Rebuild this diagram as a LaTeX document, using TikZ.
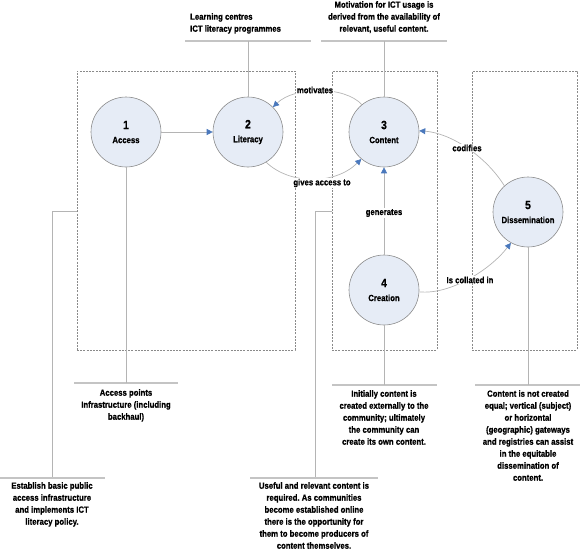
\documentclass[tikz,border=0pt]{standalone}
\usepackage{fontspec}
\newfontfamily\lbl{Liberation Sans Bold}[FakeStretch=0.86, FakeBold=0.6]
\usetikzlibrary{arrows.meta}
\definecolor{circfill}{HTML}{E6ECF6}
\definecolor{circline}{HTML}{8C8C8C}
\definecolor{arrblue}{HTML}{4A78BC}
\definecolor{connc}{HTML}{B4B4B4}
\definecolor{callc}{HTML}{C4C4C4}
\definecolor{boxc}{HTML}{8A8A8A}
\frenchspacing
\begin{document}
\begin{tikzpicture}[x=1pt,y=-1pt,
  circ/.style={circle, minimum size=70pt, inner sep=0pt, fill=circfill, draw=circline, line width=0.6pt, align=center, font=\lbl\fontsize{9}{12}\selectfont},
  dbox/.style={draw=boxc, dash pattern=on 2pt off 1.2pt, line width=0.6pt, inner sep=0pt},
  conn/.style={draw=connc, line width=0.7pt},
  arr/.style={conn, -{Triangle[length=6pt, width=6pt, color=arrblue, fill=arrblue]}},
  call/.style={draw=callc, line width=1.1pt},
  txt/.style={inner sep=0pt, align=center, font=\lbl\fontsize{9}{12}\selectfont},
  elab/.style={inner sep=1pt, fill=white, font=\lbl\fontsize{9}{12}\selectfont}
]
\useasboundingbox (0,0) rectangle (580,554);

% dashed boxes
\node[dbox, minimum width=218pt, minimum height=279pt] (b1) at (186,210.5) {};
\node[dbox, minimum width=105pt, minimum height=279pt] (b3) at (384.5,210.5) {};
\node[dbox, minimum width=105pt, minimum height=279pt] (b5) at (524.5,210.5) {};

% circles
\node[circ] (c1) at (126,132) {{\fontsize{12}{14}\selectfont 1}\\[2pt]Access};
\node[circ] (c2) at (248,132) {{\fontsize{12}{14}\selectfont 2}\\[2pt]Literacy};
\node[circ] (c3) at (384,132) {{\fontsize{12}{14}\selectfont 3}\\[2pt]Content};
\node[circ] (c4) at (384,290) {{\fontsize{12}{14}\selectfont 4}\\[2pt]Creation};
\node[circ] (c5) at (528,212) {{\fontsize{12}{14}\selectfont 5}\\[2pt]Dissemination};

% callout texts
\node[txt, anchor=north west, align=left] (t2) at (190,13) {Learning centres\\ICT literacy programmes};
\node[txt, anchor=north] (t3) at (384,1) {Motivation for ICT usage is\\derived from the availability of\\relevant, useful content.};
\node[txt, anchor=north] (t1) at (126,389) {Access points\\Infrastructure (including\\backhaul)};
\node[txt, anchor=north] (tl) at (52,482) {Establish basic public\\access infrastructure\\and implements ICT\\literacy policy.};
\node[txt, anchor=north] (tu) at (314,482) {Useful and relevant content is\\required. As communities\\become established online\\there is the opportunity for\\them to become producers of\\content themselves.};
\node[txt, anchor=north] (t4) at (384,390) {Initially content is\\created externally to the\\community; ultimately\\the community can\\create its own content.};
\node[txt, anchor=north] (t5) at (528,390) {Content is not created\\equal; vertical (subject)\\or horizontal\\(geographic) gateways\\and registries can assist\\in the equitable\\dissemination of\\content.};

% callout lines
\coordinate (h2) at (248,41);
\draw[call] (185,41) -- (311,41);
\draw[conn] (h2) -- (c2.north);
\coordinate (h3) at (384,41);
\draw[call] (321,41) -- (447,41);
\draw[conn] (h3) -- (c3.north);
\coordinate (h1) at (126,383);
\draw[call] (74,383) -- (178,383);
\draw[conn] (c1.south) -- (h1);
\coordinate (h4) at (384,385);
\draw[call] (332,385) -- (437,385);
\draw[conn] (c4.south) -- (h4);
\coordinate (h5) at (528,385);
\draw[call] (475,385) -- (580,385);
\draw[conn] (c5.south) -- (h5);
\coordinate (k1) at (77,211);
\coordinate (e1) at (52,478);
\draw[conn] (k1) -| (e1);
\draw[call] (0,478) -- (105,478);
\coordinate (k3) at (332,211);
\coordinate (e3) at (315,478);
\draw[conn] (k3) -| (e3);
\draw[call] (250,478) -- (378,478);

% arrows
\draw[arr] (c1.east) -- (c2.west);
\draw[arr] (c3.129) .. controls (345,86) and (295,86) .. (c2.45);
\node[elab] (lm) at (315,90) {motivates};
\draw[arr] (c2.-59) .. controls (290,185) and (335,185) .. (c3.-130);
\node[elab] (lg) at (322,183) {gives access to};
\draw[arr] (c4.north) -- (c3.south);
\node[elab] (lgen) at (384,213) {generates};
\draw[arr] (c5.132) .. controls (485,155) and (450,133) .. (c3.2);
\node[elab] (lc) at (467,148) {codifies};
\draw[arr] (c4.-3) .. controls (450,295) and (490,270) .. (c5.-119);
\node[elab] (li) at (470,280) {Is collated in};
\end{tikzpicture}
\end{document}
